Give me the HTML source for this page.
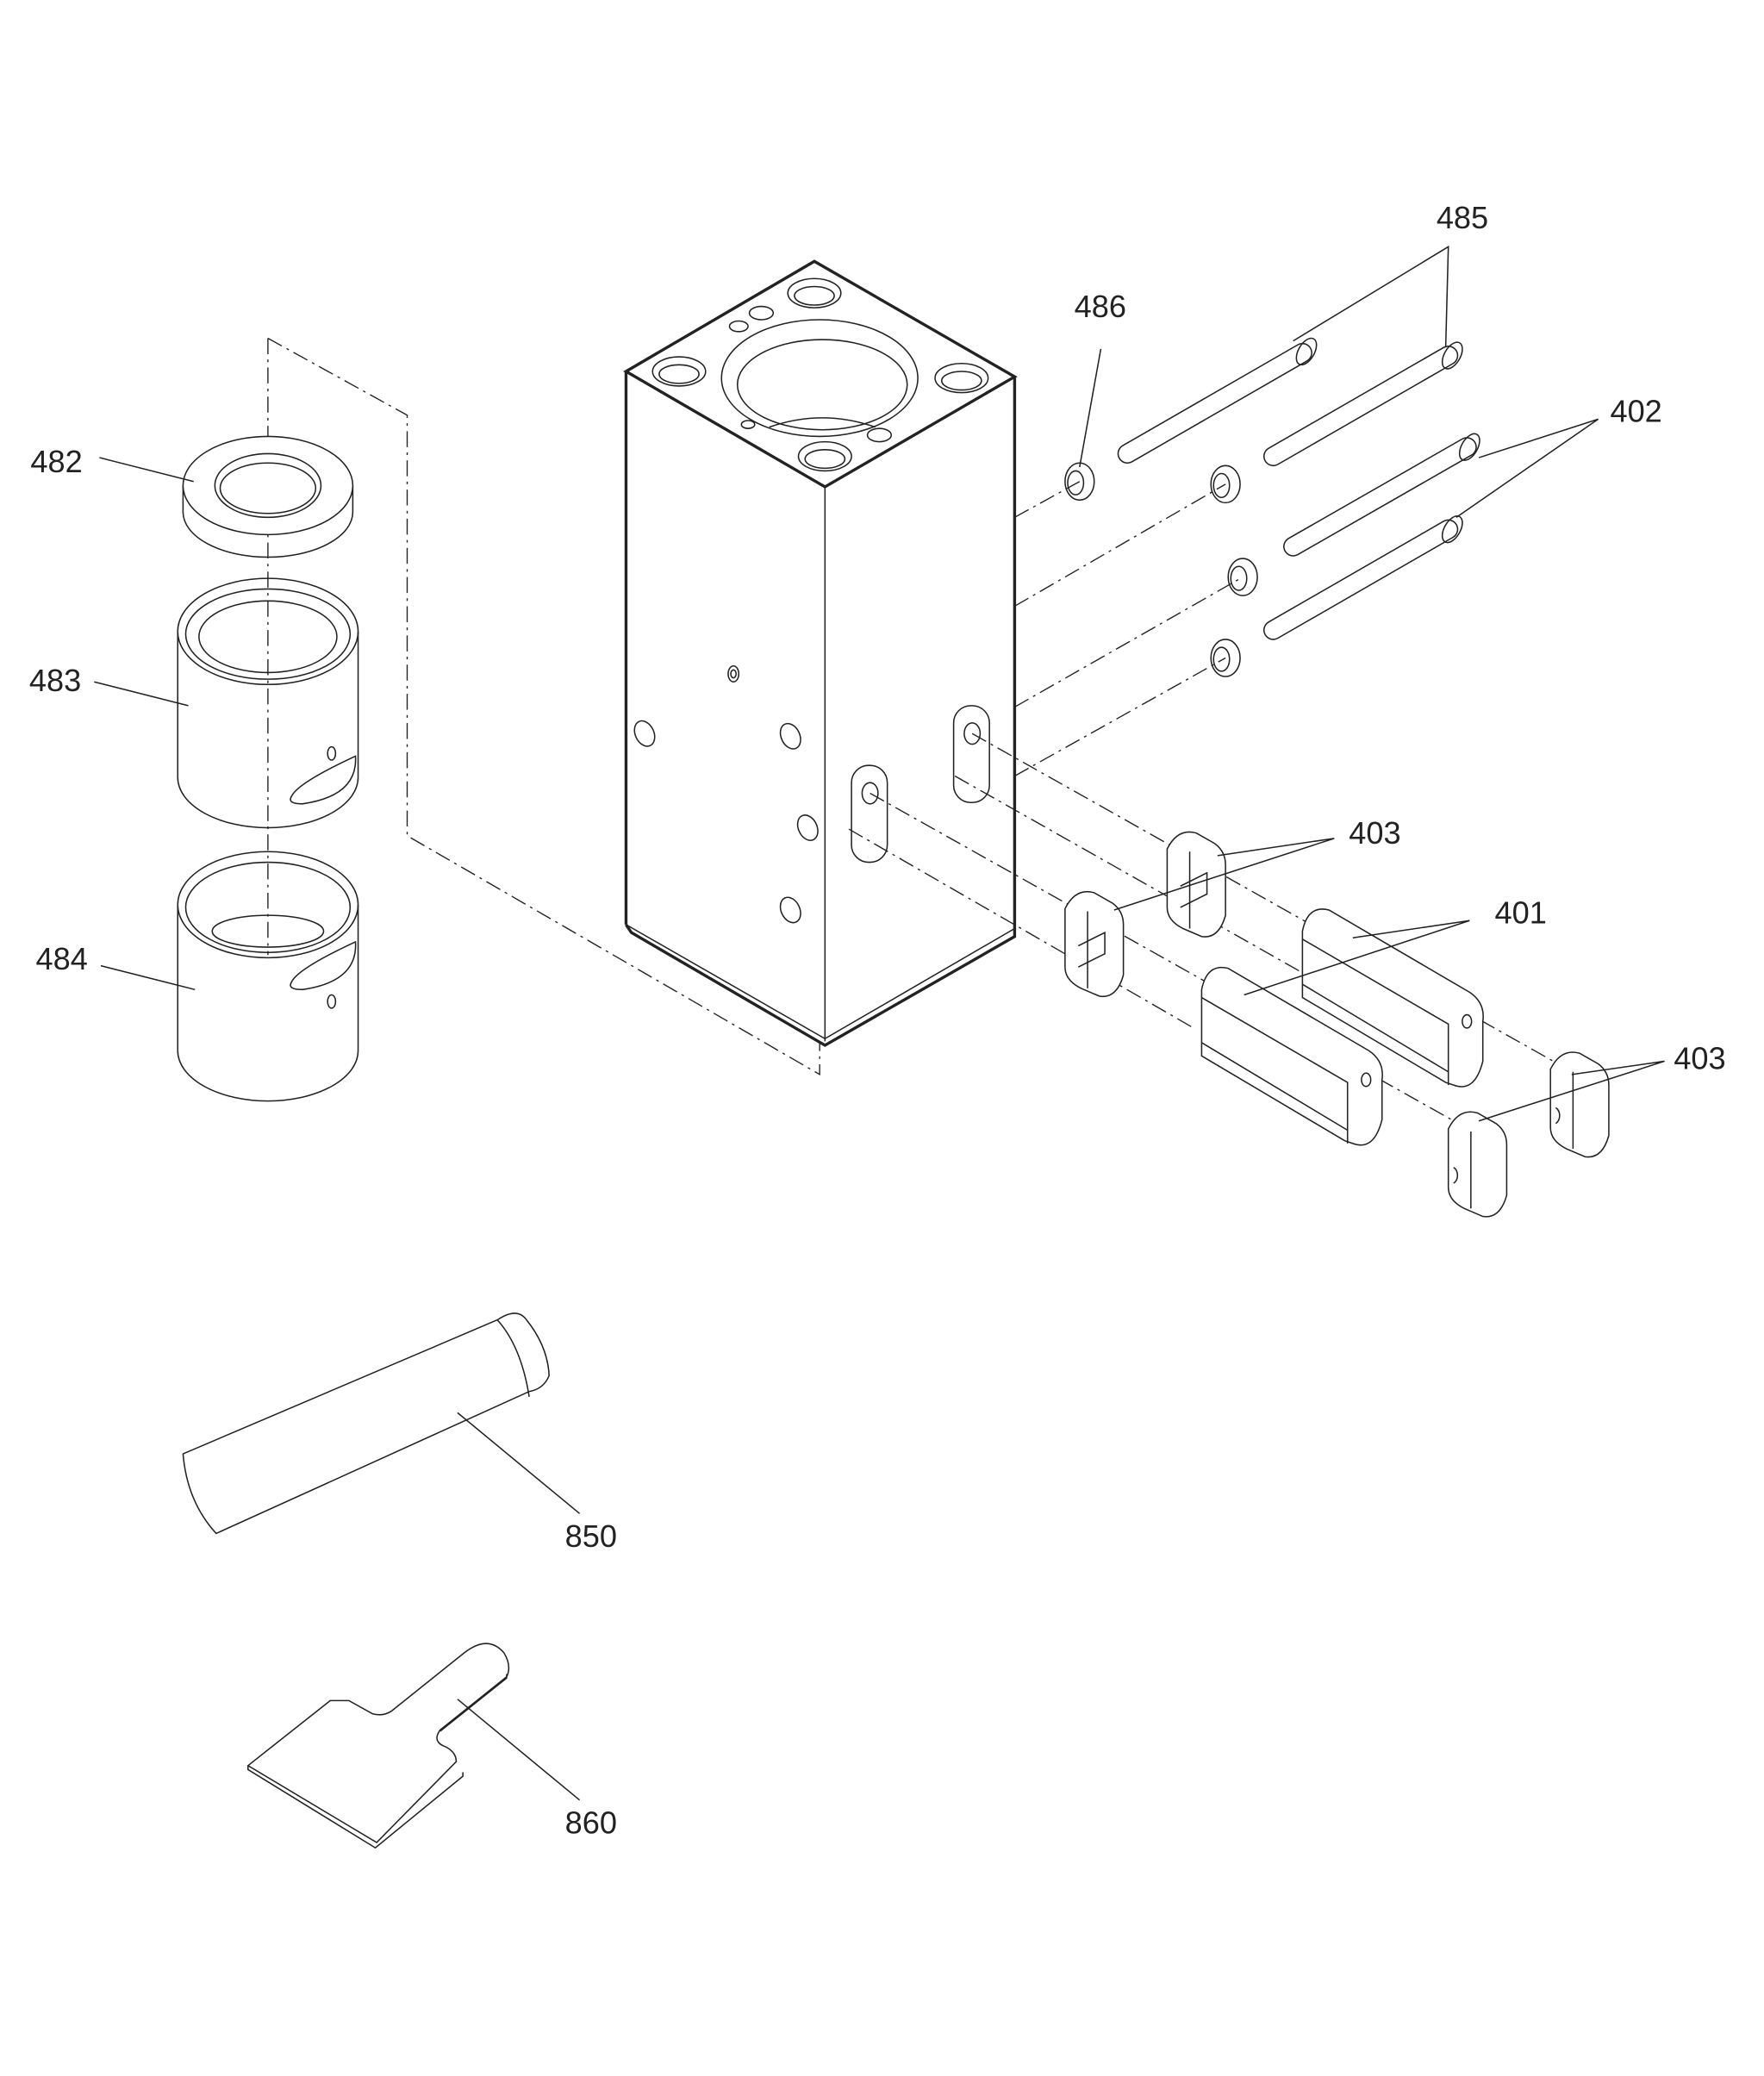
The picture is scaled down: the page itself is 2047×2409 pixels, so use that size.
<!DOCTYPE html>
<html><head><meta charset="utf-8"><style>
html,body{margin:0;padding:0;background:#fff;}
svg{display:block;}
text{font-family:"Liberation Sans",sans-serif;font-size:23.5px;fill:#222;}
</style></head><body>
<svg width="2047" height="2409" viewBox="0 0 1330 1565" preserveAspectRatio="none" xmlns="http://www.w3.org/2000/svg">
<g fill="none" stroke="#222" stroke-width="1">
<g stroke-dasharray="12,4,2,4" stroke-width="0.9">
<polyline points="202,255 307,313 307,630 618,810 618,785"/>
<line x1="202" y1="255" x2="202" y2="720"/>
<line x1="765" y1="390" x2="814" y2="363"/>
<line x1="765" y1="457" x2="924" y2="365"/>
<line x1="765" y1="533" x2="937" y2="435"/>
<line x1="765" y1="585" x2="924" y2="496"/>
<line x1="733" y1="553" x2="1180" y2="805"/>
<line x1="656" y1="598" x2="1105" y2="850"/>
<line x1="640" y1="625" x2="900" y2="775"/>
<line x1="720" y1="585" x2="985" y2="735"/>
</g>
<g stroke-width="2.2">
<polygon points="472,280 614,197 765,284 622,367"/>
<line x1="472" y1="280" x2="472" y2="697"/>
<line x1="765" y1="284" x2="765" y2="700"/>
<polyline points="472,697 476,703 622,788 765,706 765,700"/>
</g>
<line x1="622" y1="367" x2="622" y2="785"/>
<polyline points="472,697 622,783 765,700"/>
<ellipse cx="618" cy="285" rx="74" ry="44"/>
<ellipse cx="620" cy="290" rx="64" ry="34"/>
<path d="M580,322 Q620,308 660,322"/>
<ellipse cx="512" cy="280" rx="20" ry="11"/><ellipse cx="512" cy="282" rx="15" ry="7"/>
<ellipse cx="614" cy="221" rx="20" ry="11"/><ellipse cx="614" cy="223" rx="15" ry="7"/>
<ellipse cx="725" cy="285" rx="20" ry="11"/><ellipse cx="725" cy="287" rx="15" ry="7"/>
<ellipse cx="622" cy="344" rx="20" ry="11"/><ellipse cx="622" cy="346" rx="15" ry="7"/>
<ellipse cx="574" cy="236" rx="9" ry="5"/><ellipse cx="557" cy="246" rx="7" ry="4"/>
<ellipse cx="663" cy="328" rx="9" ry="5"/><ellipse cx="564" cy="320" rx="5" ry="3"/>
<ellipse cx="486" cy="553" rx="7" ry="10" transform="rotate(-25 486 553)"/>
<ellipse cx="553" cy="508" rx="4" ry="6"/><ellipse cx="553" cy="508" rx="2" ry="3"/>
<ellipse cx="596" cy="555" rx="7" ry="10" transform="rotate(-25 596 555)"/>
<ellipse cx="609" cy="624" rx="7" ry="10" transform="rotate(-25 609 624)"/>
<ellipse cx="596" cy="686" rx="7" ry="10" transform="rotate(-25 596 686)"/>
<rect x="642" y="577" width="27" height="73" rx="13"/>
<ellipse cx="656" cy="598" rx="6" ry="8"/>
<rect x="719" y="532" width="27" height="73" rx="13"/>
<ellipse cx="733" cy="553" rx="6" ry="8"/>
<path d="M138,366 v20 a64,34 0 0 0 128,0 v-20"/>
<ellipse cx="202" cy="366" rx="64" ry="37" fill="#fff"/>
<ellipse cx="202" cy="366" rx="40" ry="24"/>
<ellipse cx="202" cy="368" rx="36" ry="19"/>
<path d="M134,476 v110 a68,38 0 0 0 136,0 v-110"/>
<ellipse cx="202" cy="476" rx="68" ry="40"/>
<ellipse cx="202" cy="478" rx="62" ry="34"/>
<ellipse cx="202" cy="480" rx="52" ry="27"/>
<path d="M220,600 q5,-10 48,-30 q2,30 -40,36 q-12,0 -8,-6z"/>
<ellipse cx="250" cy="568" rx="3" ry="5"/>
<path d="M134,682 v110 a68,38 0 0 0 136,0 v-110"/>
<ellipse cx="202" cy="682" rx="68" ry="40"/>
<ellipse cx="202" cy="684" rx="62" ry="34"/>
<ellipse cx="202" cy="702" rx="42" ry="12"/>
<path d="M220,740 q5,-10 48,-30 q2,30 -40,36 q-12,0 -8,-6z"/>
<ellipse cx="250" cy="755" rx="3" ry="5"/>
<g stroke-linecap="round">
<g stroke="#222" stroke-width="15">
<line x1="850" y1="342" x2="982" y2="266"/><line x1="960" y1="344" x2="1092" y2="268"/>
<line x1="975" y1="412" x2="1106" y2="337"/><line x1="960" y1="475" x2="1092" y2="399"/>
</g>
<g stroke="#fff" stroke-width="13">
<line x1="850" y1="342" x2="982" y2="266"/><line x1="960" y1="344" x2="1092" y2="268"/>
<line x1="975" y1="412" x2="1106" y2="337"/><line x1="960" y1="475" x2="1092" y2="399"/>
</g>
</g>
<ellipse cx="985" cy="265" rx="6" ry="11" transform="rotate(30 985 265)"/>
<ellipse cx="1095" cy="268" rx="6" ry="11" transform="rotate(30 1095 268)"/>
<ellipse cx="1108" cy="337" rx="6" ry="11" transform="rotate(30 1108 337)"/>
<ellipse cx="1095" cy="399" rx="6" ry="11" transform="rotate(30 1095 399)"/>
<ellipse cx="814" cy="363" rx="11" ry="14"/><ellipse cx="811" cy="364" rx="6" ry="9"/>
<ellipse cx="924" cy="365" rx="11" ry="14"/><ellipse cx="921" cy="366" rx="6" ry="9"/>
<ellipse cx="937" cy="435" rx="11" ry="14"/><ellipse cx="934" cy="436" rx="6" ry="9"/>
<ellipse cx="924" cy="496" rx="11" ry="14"/><ellipse cx="921" cy="497" rx="6" ry="9"/>
<g fill="#fff">
<path d="M880,640 q8,-16 22,-12 l14,8 q8,6 8,16 v38 q-5,18 -18,16 l-14,-6 q-12,-6 -12,-16z"/>
<path d="M803,685 q8,-16 22,-12 l14,8 q8,6 8,16 v38 q-5,18 -18,16 l-14,-6 q-12,-6 -12,-16z"/>
<path d="M1169,806 q8,-16 22,-12 l14,8 q8,6 8,16 v38 q-5,18 -18,16 l-14,-6 q-12,-6 -12,-16z"/>
<path d="M1092,851 q8,-16 22,-12 l14,8 q8,6 8,16 v38 q-5,18 -18,16 l-14,-6 q-12,-6 -12,-16z"/>
</g>
<path d="M1186,808 v58"/><path d="M1109,853 v58"/><path d="M897,642 v58"/><path d="M820,687 v58"/>
<path d="M1096,880 a6,7 0 0 1 0,12"/><path d="M1173,835 a6,7 0 0 1 0,12"/>
<path d="M890,668 l20,-10 v16 l-20,10"/><path d="M813,713 l20,-10 v16 l-20,10"/>
<path fill="#fff" d="M982,702 q4,-20 20,-16 l106,62 q12,8 10,22 v30 q-6,24 -22,18 l-6,-2 l-108,-64z"/>
<path d="M982,708 l110,64 v46"/><path d="M982,742 l110,66"/>
<ellipse cx="1106" cy="770" rx="3.5" ry="5"/>
<path fill="#fff" d="M906,746 q4,-20 20,-16 l106,62 q12,8 10,22 v30 q-6,24 -22,18 l-6,-2 l-108,-64z"/>
<path d="M906,752 l110,64 v46"/><path d="M906,786 l110,66"/>
<ellipse cx="1030" cy="814" rx="3.5" ry="5"/>
<path d="M138,1096 L375,995 q15,-10 22,0 q16,20 17,42 q-4,10 -15,12 L163,1156 q-22,-24 -25,-60z"/>
<path d="M375,995 q18,20 24,58"/>
<path d="M187,1331 L249,1282 h14 l18,10 q8,2 14,-2 l55,-44 q18,-14 30,0 q6,10 2,18 l-50,40 q-6,8 2,12 q10,4 10,12 L284,1389 z"/>
<path d="M187,1331 v3 l96,59 l66,-54 v-3"/><path d="M382,1262 v3 l-50,40"/>
<line x1="75" y1="345" x2="146" y2="363"/>
<line x1="71" y1="514" x2="142" y2="532"/>
<line x1="76" y1="728" x2="147" y2="746"/>
<line x1="830" y1="263" x2="814" y2="352"/>
<polyline points="975,257 1092,186 1090,262"/>
<polyline points="1115,345 1205,316 1098,390"/>
<polyline points="918,645 1006,632 840,686"/>
<polyline points="1020,707 1108,694 938,750"/>
<polyline points="1185,810 1255,800 1115,845"/>
<line x1="437" y1="1141" x2="345" y2="1065"/>
<line x1="437" y1="1357" x2="345" y2="1281"/>
</g>
<g>
<text x="23" y="356">482</text>
<text x="22" y="521">483</text>
<text x="27" y="731">484</text>
<text x="810" y="239">486</text>
<text x="1083" y="172">485</text>
<text x="1214" y="318">402</text>
<text x="1017" y="636">403</text>
<text x="1127" y="696">401</text>
<text x="1262" y="806">403</text>
<text x="426" y="1166">850</text>
<text x="426" y="1382">860</text>
</g>
</svg>
</body></html>
